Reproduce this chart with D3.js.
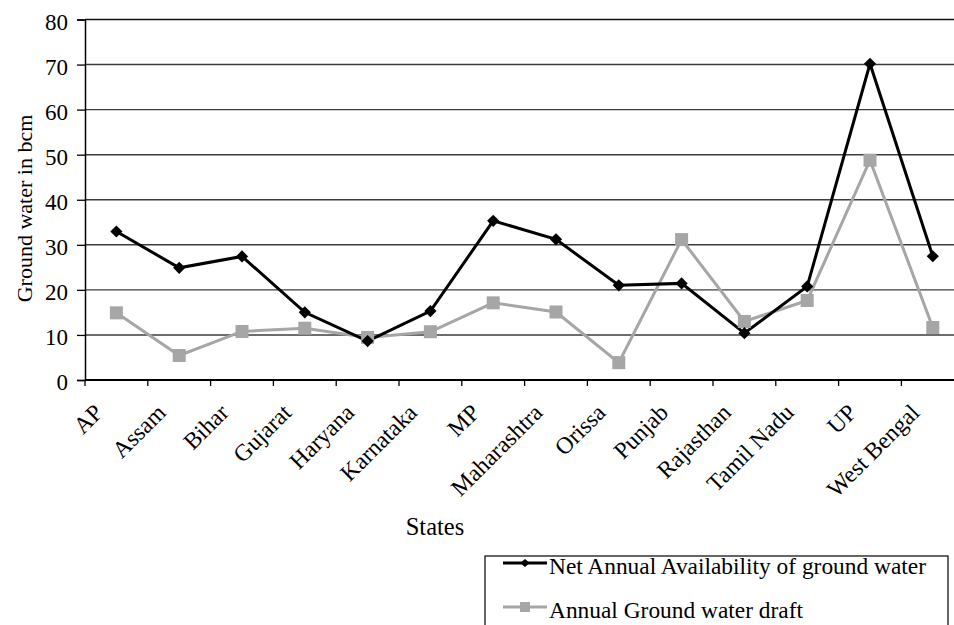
<!DOCTYPE html>
<html>
<head>
<meta charset="utf-8">
<script src="https://cdn.jsdelivr.net/npm/d3@7"></script>
<style>
  html, body { margin: 0; padding: 0; background: #fff; }
  svg { display: block; }
  svg text { font-family: "Liberation Serif", "Times New Roman", "DejaVu Serif", serif; }
</style>
</head>
<body>
<svg id="chart" width="954" height="625"></svg>
<script>
// Ground water availability and draft by state (billion cubic metres)
const states = ["AP", "Assam", "Bihar", "Gujarat", "Haryana", "Karnataka", "MP",
  "Maharashtra", "Orissa", "Punjab", "Rajasthan", "Tamil Nadu", "UP", "West Bengal"];
const netAvailability = [32.95, 24.89, 27.42, 15.02, 8.63, 15.30, 35.33,
  31.21, 21.01, 21.44, 10.38, 20.76, 70.18, 27.46];
const groundWaterDraft = [14.90, 5.44, 10.77, 11.49, 9.45, 10.71, 17.12,
  15.09, 3.85, 31.16, 12.99, 17.65, 48.78, 11.65];
const yTicks = [0, 10, 20, 30, 40, 50, 60, 70, 80];
const seriesNames = ["Net Annual Availability of ground water", "Annual Ground water draft"];

const FONT = "Liberation Serif, Times New Roman, DejaVu Serif, serif";
const svg = d3.select("#chart");
const plotLeft = 85, plotTop = 19.5, plotBottom = 380;
const step = 62.8;
const plotRight = plotLeft + step * states.length;

const x = d3.scaleBand().domain(states).range([plotLeft, plotRight]).paddingInner(0).paddingOuter(0);
const y = d3.scaleLinear().domain([0, 80]).range([plotBottom, plotTop]);
const cx = s => x(s) + x.bandwidth() / 2;

// horizontal gridlines
svg.append("g")
  .selectAll("line")
  .data(yTicks.filter(v => v > 0))
  .join("line")
  .attr("x1", plotLeft).attr("x2", 954)
  .attr("y1", d => y(d)).attr("y2", d => y(d))
  .attr("stroke", d => d === 80 ? "#111" : "#3c3c3c")
  .attr("stroke-width", 1.4);

// y axis
const yAxis = svg.append("g")
  .attr("transform", `translate(${plotLeft},0)`)
  .call(d3.axisLeft(y).tickValues(yTicks).tickSize(8).tickPadding(9));
yAxis.attr("font-family", FONT);
yAxis.select(".domain").attr("stroke", "#000").attr("stroke-width", 1.5);
yAxis.selectAll(".tick line").attr("stroke", "#000").attr("stroke-width", 1.3);
yAxis.selectAll(".tick text")
  .attr("font-family", FONT)
  .attr("font-size", 23)
  .attr("fill", "#000")
  .attr("dy", "0.42em");

// x axis baseline and category boundary ticks
svg.append("line")
  .attr("x1", plotLeft).attr("x2", 954)
  .attr("y1", plotBottom).attr("y2", plotBottom)
  .attr("stroke", "#000").attr("stroke-width", 2.2);
const bounds = states.map(s => x(s)).concat([plotRight]);
svg.append("g").selectAll("line").data(bounds).join("line")
  .attr("x1", d => d).attr("x2", d => d)
  .attr("y1", plotBottom).attr("y2", plotBottom + 6)
  .attr("stroke", "#000").attr("stroke-width", 1.3);

// rotated category labels
svg.append("g").selectAll("text").data(states).join("text")
  .attr("transform", d => `translate(${cx(d) - 12},414) rotate(-45)`)
  .attr("text-anchor", "end")
  .attr("font-family", FONT)
  .attr("font-size", 23.6)
  .attr("fill", "#000")
  .text(d => d);

// axis titles
svg.append("text")
  .attr("transform", "translate(32,208.5) rotate(-90)")
  .attr("text-anchor", "middle")
  .attr("font-family", FONT)
  .attr("font-size", 22)
  .text("Ground water in bcm");
svg.append("text")
  .attr("x", 435).attr("y", 535)
  .attr("text-anchor", "middle")
  .attr("font-family", FONT)
  .attr("font-size", 24.5)
  .text("States");

// series lines
const line = d3.line().x((d, i) => cx(states[i])).y(d => y(d));
svg.append("path").datum(groundWaterDraft)
  .attr("d", line).attr("fill", "none")
  .attr("stroke", "#a6a6a6").attr("stroke-width", 3).attr("stroke-linejoin", "miter");
svg.append("path").datum(netAvailability)
  .attr("d", line).attr("fill", "none")
  .attr("stroke", "#000").attr("stroke-width", 3).attr("stroke-linejoin", "miter");

// markers
const sq = 13;
svg.append("g").selectAll("rect").data(groundWaterDraft).join("rect")
  .attr("x", (d, i) => cx(states[i]) - sq / 2)
  .attr("y", d => y(d) - sq / 2)
  .attr("width", sq).attr("height", sq)
  .attr("fill", "#a6a6a6");
const diamond = d3.symbol().type(d3.symbolDiamond2).size(95);
svg.append("g").selectAll("path").data(netAvailability).join("path")
  .attr("transform", (d, i) => `translate(${cx(states[i])},${y(d)})`)
  .attr("d", diamond)
  .attr("fill", "#000");

// legend
const lg = svg.append("g");
lg.append("rect")
  .attr("x", 485).attr("y", 556).attr("width", 463).attr("height", 100)
  .attr("fill", "none").attr("stroke", "#000").attr("stroke-width", 1.2);
const rows = [
  { name: seriesNames[0], color: "#000", shape: "diamond", yy: 563 },
  { name: seriesNames[1], color: "#a6a6a6", shape: "square", yy: 607 }
];
rows.forEach(r => {
  lg.append("line")
    .attr("x1", 503).attr("x2", 547).attr("y1", r.yy).attr("y2", r.yy)
    .attr("stroke", r.color).attr("stroke-width", 3);
  if (r.shape === "diamond") {
    lg.append("path")
      .attr("transform", `translate(525,${r.yy}) scale(1.2,1)`)
      .attr("d", d3.symbol().type(d3.symbolDiamond2).size(40))
      .attr("fill", r.color);
  } else {
    lg.append("rect")
      .attr("x", 520).attr("y", r.yy - 5).attr("width", 10).attr("height", 10)
      .attr("fill", r.color);
  }
  lg.append("text")
    .attr("x", 549).attr("y", r.yy + 11)
    .attr("font-family", FONT)
    .attr("font-size", 23.4)
    .text(r.name);
});
</script>
</body>
</html>
